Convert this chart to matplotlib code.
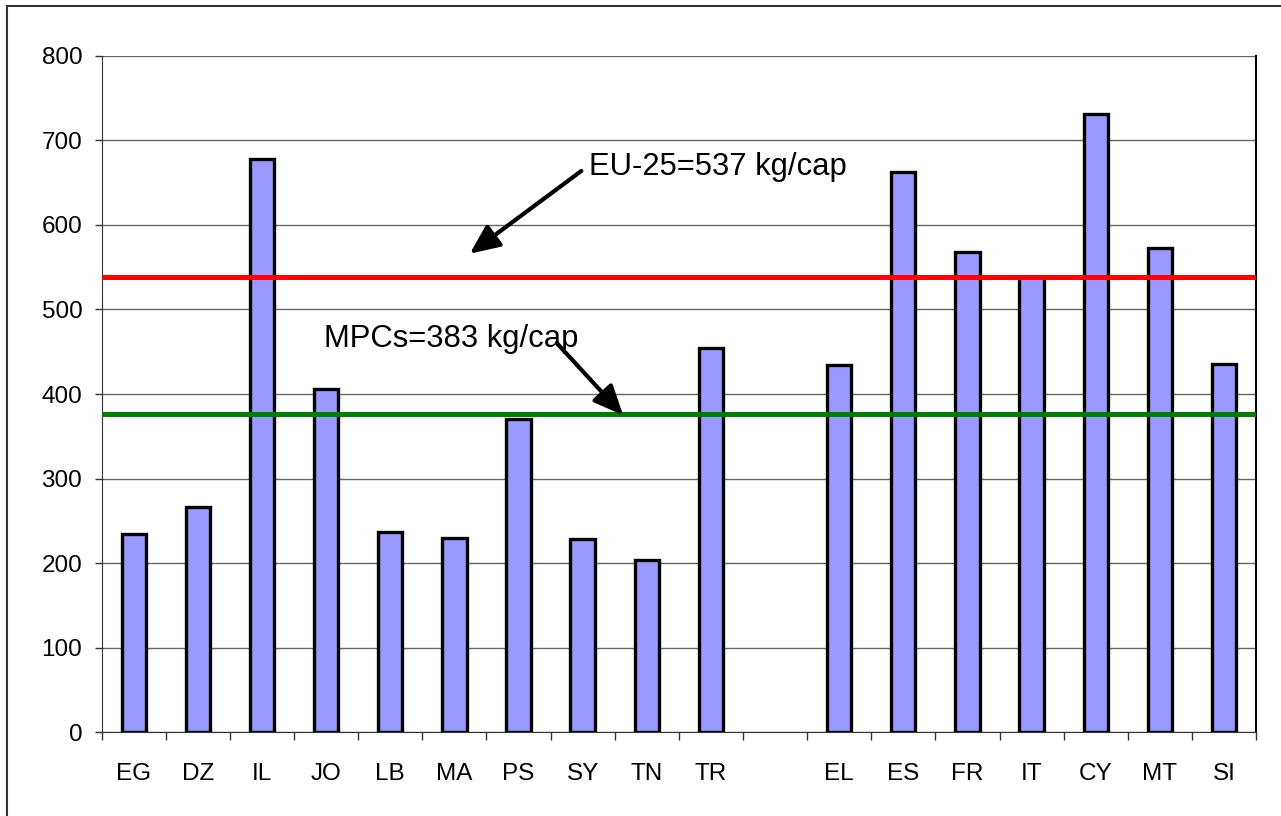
import numpy as np
import matplotlib
matplotlib.use("Agg")
from matplotlib import pyplot as plt
from matplotlib.lines import Line2D

plt.rcParams['font.family'] = ['Liberation Sans', 'DejaVu Sans']

# data (kg/cap)
countries = ['EG', 'DZ', 'IL', 'JO', 'LB', 'MA', 'PS', 'SY', 'TN', 'TR', '',
             'EL', 'ES', 'FR', 'IT', 'CY', 'MT', 'SI']
waste = [234, 266, 678, 406, 237, 230, 371, 229, 204, 455, np.nan,
         434, 663, 568, 538, 731, 573, 435]
eu25_level = 539
mpc_level = 376
eu25_label = 'EU-25=537 kg/cap'
mpc_label = 'MPCs=383 kg/cap'
y_ticks = [0, 100, 200, 300, 400, 500, 600, 700, 800]

fig = plt.figure(figsize=(12.81, 8.16), dpi=100)
ax = fig.add_axes([0.0794, 0.1029, 0.9011, 0.8285])

x = np.arange(len(countries))
ax.bar(x, waste, width=0.38, color='#9999ff', edgecolor='black', linewidth=2.4, zorder=3)

ax.axhline(eu25_level, color='#ff0000', lw=3.6, zorder=4)
ax.axhline(mpc_level, color='#008000', lw=3.6, zorder=4)

ax.set_xlim(-0.5, len(countries) - 0.5)
ax.set_ylim(0, 800)
ax.set_yticks(y_ticks)
ax.yaxis.grid(True, color='#666666', lw=1)
ax.set_axisbelow(True)

# ticks at category borders, labels in the middle
ax.set_xticks(np.arange(len(countries) + 1) - 0.5)
ax.set_xticklabels([])
ax.set_xticks(x, minor=True)
ax.set_xticklabels(countries, minor=True)
ax.tick_params(axis='x', which='major', length=6, width=1, color='#333333', direction='out')
ax.tick_params(axis='x', which='minor', length=0, pad=22, labelsize=17.5)
ax.tick_params(axis='y', length=5, width=1, color='#333333', pad=9, labelsize=17.5)

ax.spines['top'].set_visible(False)
ax.spines['left'].set_color('#333333')
ax.spines['bottom'].set_color('#333333')
ax.spines['right'].set_color('black')
ax.spines['right'].set_linewidth(1.5)

# annotations
arrow_style = dict(arrowstyle='-|>,head_length=0.45,head_width=0.2', lw=3, color='black',
                   mutation_scale=40, shrinkA=0, shrinkB=0)
ax.text(7.1, 659, eu25_label, fontsize=22.3, va='baseline', ha='left')
ax.annotate('', xy=(5.24, 566), xytext=(6.98, 664), arrowprops=arrow_style, zorder=6)
ax.text(2.97, 455.6, mpc_label, fontsize=22.3, va='baseline', ha='left')
ax.annotate('', xy=(7.63, 375), xytext=(6.6, 460), arrowprops=arrow_style, zorder=6)

# outer frame of the chart object (left and top edges visible)
fig.add_artist(Line2D([7 / 1281, 7 / 1281], [0, 1 - 6 / 816], color='#333333', lw=1.5))
fig.add_artist(Line2D([7 / 1281, 1], [1 - 6 / 816, 1 - 6 / 816], color='#333333', lw=1.5))

fig.savefig('out.png', dpi=100)
